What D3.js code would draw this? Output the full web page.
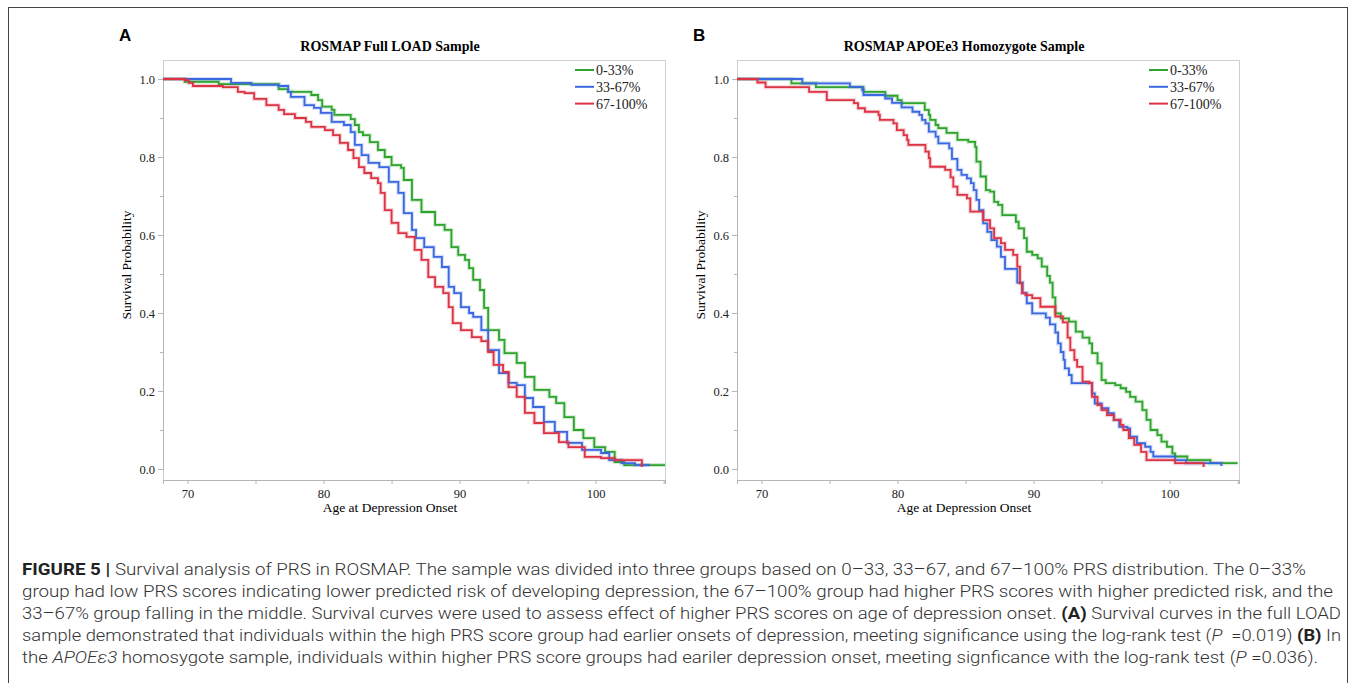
<!DOCTYPE html>
<html>
<head>
<meta charset="utf-8">
<script src="https://cdn.jsdelivr.net/npm/d3@7"></script>
<style>
  body { margin: 0; background: #fff; }
  svg { display: block; }
</style>
</head>
<body>
<script>
// Survival curves, [age, survival] at each step
const groups = ["0-33%", "33-67%", "67-100%"];
const panelLetters = ["A", "B"];
const panelTitles = ["ROSMAP Full LOAD Sample", "ROSMAP APOEe3 Homozygote Sample"];
const xTicks = [70, 80, 90, 100];
const xMinorTicks = [75, 85, 95, 105];
const yTicks = [0, 0.2, 0.4, 0.6, 0.8, 1.0];
const yMinorTicks = [0.1, 0.3, 0.5, 0.7, 0.9];

const fullLow = [
  [68.2, 1.0], [69.8, 0.993], [72.3, 0.987], [76.7, 0.974], [77.4, 0.967], [79.1, 0.959],
  [79.6, 0.946], [79.9, 0.929], [80.6, 0.921], [80.8, 0.908], [82.0, 0.897], [82.3, 0.882],
  [82.6, 0.864], [82.9, 0.856], [83.4, 0.838], [84.0, 0.818], [84.5, 0.800], [85.0, 0.779],
  [85.7, 0.772], [85.9, 0.741], [86.5, 0.690], [87.2, 0.659], [88.2, 0.626], [88.9, 0.613],
  [89.4, 0.569], [89.9, 0.549], [90.4, 0.536], [90.7, 0.515], [91.0, 0.485], [91.5, 0.459],
  [91.8, 0.413], [92.1, 0.356], [92.9, 0.331], [93.3, 0.297], [94.2, 0.272], [94.8, 0.236],
  [95.5, 0.203], [96.6, 0.185], [97.1, 0.169], [97.7, 0.133], [98.4, 0.100], [99.1, 0.079],
  [99.9, 0.056], [100.7, 0.044], [101.4, 0.018], [102.1, 0.010], [105.1, 0.010]
];
const fullMid = [
  [68.2, 1.0], [73.2, 0.990], [74.7, 0.985], [76.7, 0.982], [77.4, 0.967], [77.6, 0.954],
  [78.6, 0.933], [79.3, 0.926], [79.8, 0.913], [80.6, 0.890], [81.5, 0.882], [82.0, 0.864],
  [82.3, 0.831], [82.8, 0.805], [83.3, 0.785], [84.1, 0.774], [84.8, 0.736], [85.5, 0.708],
  [85.9, 0.656], [86.5, 0.613], [86.8, 0.592], [87.4, 0.569], [88.1, 0.544], [88.7, 0.518],
  [89.2, 0.467], [89.6, 0.451], [90.1, 0.415], [90.7, 0.400], [91.0, 0.390], [91.6, 0.356],
  [92.1, 0.305], [92.9, 0.246], [93.6, 0.221], [94.2, 0.215], [94.8, 0.182], [95.4, 0.159],
  [96.2, 0.121], [97.0, 0.095], [97.9, 0.067], [99.0, 0.049], [100.4, 0.041], [101.0, 0.023],
  [101.9, 0.015], [102.9, 0.010], [104.0, 0.010]
];
const fullHigh = [
  [68.2, 1.0], [69.8, 0.997], [70.1, 0.990], [70.4, 0.982], [72.6, 0.979], [73.7, 0.967],
  [74.2, 0.964], [74.9, 0.949], [75.8, 0.933], [76.7, 0.921], [77.1, 0.910], [77.9, 0.900],
  [78.7, 0.890], [79.1, 0.877], [80.1, 0.869], [80.7, 0.856], [81.2, 0.836], [81.8, 0.818],
  [82.2, 0.797], [82.6, 0.774], [83.0, 0.759], [83.5, 0.746], [84.0, 0.733], [84.2, 0.708],
  [84.5, 0.664], [85.0, 0.631], [85.5, 0.605], [86.1, 0.595], [86.7, 0.562], [87.2, 0.536],
  [87.7, 0.492], [88.2, 0.467], [88.8, 0.451], [89.2, 0.415], [89.5, 0.374], [90.1, 0.356],
  [90.9, 0.338], [91.6, 0.328], [92.1, 0.300], [92.5, 0.267], [93.2, 0.249], [93.6, 0.210],
  [94.2, 0.185], [94.8, 0.144], [95.5, 0.118], [96.2, 0.092], [97.3, 0.069], [98.0, 0.056],
  [99.2, 0.031], [100.4, 0.028], [101.4, 0.023], [103.4, 0.005]
];

const apoeLow = [
  [68.2, 1.0], [72.2, 0.989], [74.0, 0.979], [77.5, 0.967], [79.1, 0.957], [80.0, 0.946],
  [80.3, 0.938], [82.0, 0.921], [82.3, 0.908], [82.4, 0.895], [82.8, 0.882], [83.0, 0.874],
  [83.6, 0.862], [84.4, 0.844], [85.2, 0.839], [85.7, 0.826], [85.8, 0.788], [86.1, 0.750],
  [86.5, 0.715], [86.8, 0.711], [87.1, 0.685], [87.4, 0.677], [87.7, 0.651], [88.7, 0.634],
  [88.9, 0.617], [89.3, 0.592], [89.5, 0.557], [89.9, 0.549], [90.3, 0.540], [90.6, 0.519],
  [91.0, 0.495], [91.2, 0.478], [91.4, 0.440], [91.6, 0.399], [92.0, 0.386], [92.6, 0.378],
  [93.1, 0.352], [93.6, 0.337], [94.1, 0.322], [94.3, 0.297], [94.7, 0.271], [95.0, 0.228],
  [95.3, 0.220], [96.0, 0.215], [96.4, 0.207], [96.8, 0.198], [97.1, 0.185], [97.5, 0.173],
  [98.0, 0.151], [98.3, 0.126], [98.6, 0.100], [99.1, 0.087], [99.4, 0.070], [99.8, 0.057],
  [100.2, 0.040], [100.4, 0.032], [101.3, 0.023], [103.0, 0.015], [105.0, 0.015]
];
const apoeMid = [
  [68.2, 1.0], [73.0, 0.989], [76.5, 0.980], [77.4, 0.972], [77.5, 0.959], [79.1, 0.950],
  [79.6, 0.939], [80.3, 0.927], [81.1, 0.916], [81.6, 0.908], [81.8, 0.895], [82.05, 0.886],
  [82.3, 0.865], [82.8, 0.852], [83.0, 0.835], [83.8, 0.822], [84.0, 0.795], [84.4, 0.767],
  [84.7, 0.754], [85.1, 0.745], [85.4, 0.733], [85.6, 0.715], [85.8, 0.690], [86.0, 0.664],
  [86.3, 0.630], [86.6, 0.608], [86.9, 0.587], [87.3, 0.570], [87.6, 0.544], [87.9, 0.513],
  [88.8, 0.478], [89.2, 0.451], [89.5, 0.425], [89.9, 0.399], [90.9, 0.388], [91.2, 0.371],
  [91.6, 0.350], [91.8, 0.322], [92.0, 0.300], [92.2, 0.280], [92.3, 0.258], [92.6, 0.241],
  [92.8, 0.220], [94.3, 0.194], [94.5, 0.168], [95.0, 0.156], [95.5, 0.143], [95.9, 0.126],
  [96.3, 0.108], [96.9, 0.104], [97.1, 0.083], [97.6, 0.066], [98.2, 0.057], [98.6, 0.044],
  [98.8, 0.032], [100.4, 0.023], [101.2, 0.015], [103.8, 0.008]
];
const apoeHigh = [
  [68.2, 1.0], [69.7, 0.991], [70.3, 0.979], [73.5, 0.967], [74.8, 0.946], [76.8, 0.938],
  [77.1, 0.925], [77.6, 0.916], [78.6, 0.908], [78.7, 0.895], [79.7, 0.886], [79.95, 0.869],
  [80.45, 0.856], [80.7, 0.844], [80.8, 0.831], [82.05, 0.814], [82.3, 0.797], [82.4, 0.775],
  [83.5, 0.767], [83.9, 0.748], [84.1, 0.724], [84.4, 0.703], [85.1, 0.694], [85.35, 0.660],
  [86.3, 0.638], [86.8, 0.617], [87.1, 0.592], [87.6, 0.579], [87.9, 0.562], [88.5, 0.549],
  [88.8, 0.519], [89.0, 0.476], [89.15, 0.451], [89.4, 0.446], [89.9, 0.438], [90.5, 0.416],
  [91.6, 0.391], [92.15, 0.376], [92.5, 0.337], [92.7, 0.305], [93.0, 0.280], [93.2, 0.262],
  [93.6, 0.224], [94.1, 0.220], [94.3, 0.185], [94.7, 0.164], [95.0, 0.151], [95.4, 0.138],
  [95.9, 0.126], [96.4, 0.113], [96.6, 0.100], [97.0, 0.079], [97.4, 0.062], [97.9, 0.044],
  [98.3, 0.023], [100.4, 0.015], [102.5, 0.005]
];

const panelCurves = [[fullLow, fullMid, fullHigh], [apoeLow, apoeMid, apoeHigh]];

const captionLines = [
  [["FIGURE 5 | ", "b"], ["Survival analysis of PRS in ROSMAP. The sample was divided into three groups based on 0–33, 33–67, and 67–100% PRS distribution. The 0–33%", ""]],
  [["group had low PRS scores indicating lower predicted risk of developing depression, the 67–100% group had higher PRS scores with higher predicted risk, and the", ""]],
  [["33–67% group falling in the middle. Survival curves were used to assess effect of higher PRS scores on age of depression onset. ", ""], ["(A)", "b"], [" Survival curves in the full LOAD", ""]],
  [["sample demonstrated that individuals within the high PRS score group had earlier onsets of depression, meeting significance using the log-rank test (", ""], ["P", "i"], ["\u00a0 =0.019) ", ""], ["(B)", "b"], [" In", ""]],
  [["the ", ""], ["APOEε3", "i"], [" homosygote sample, individuals within higher PRS score groups had eariler depression onset, meeting signficance with the log-rank test (", ""], ["P", "i"], [" =0.036).", ""]]
];

const colors = ["#2ea32e", "#3a68e0", "#dc3444"];
const width = 1355, height = 683;
const serif = "'Liberation Serif', 'Times New Roman', serif";

const svg = d3.select("body").append("svg")
  .attr("width", width)
  .attr("height", height);

// outer figure box
svg.append("rect")
  .attr("x", 8.5).attr("y", 7.5)
  .attr("width", 1339).attr("height", 700)
  .attr("fill", "none")
  .attr("stroke", "#444")
  .attr("stroke-width", 1);

const plotW = 502, plotH = 420;
const panelLeft = [163, 737];
const plotTop = 60;

panelLetters.forEach((letter, p) => {
  const left = panelLeft[p];
  const g = svg.append("g").attr("transform", `translate(${left},${plotTop})`);

  const x = d3.scaleLinear().domain([68.2, 105.1]).range([0, plotW]);
  const y = d3.scaleLinear().domain([0, 1]).range([409, 19]);

  // panel letter and title
  svg.append("text")
    .attr("x", left - 44).attr("y", 41)
    .attr("font-family", "'Liberation Sans', Arial, sans-serif")
    .attr("font-weight", "bold")
    .attr("font-size", 17)
    .text(letter);
  svg.append("text")
    .attr("x", left + plotW / 2 - 24).attr("y", 51)
    .attr("text-anchor", "middle")
    .attr("font-family", serif)
    .attr("font-weight", "bold")
    .attr("font-size", 14)
    .text(panelTitles[p]);

  // frame
  g.append("rect")
    .attr("x", 0.5).attr("y", 0.5)
    .attr("width", plotW).attr("height", plotH)
    .attr("fill", "none")
    .attr("stroke", "#cfcfcf");

  // axes
  g.append("g")
    .call(d3.axisLeft(y).tickValues(yTicks).tickFormat(d3.format(".1f")).tickSize(5).tickPadding(3));
  g.append("g")
    .call(d3.axisLeft(y).tickValues(yMinorTicks).tickFormat("").tickSize(3));
  g.append("g")
    .attr("transform", `translate(0,${plotH})`)
    .call(d3.axisBottom(x).tickValues(xTicks).tickSize(4).tickPadding(5));
  g.append("g")
    .attr("transform", `translate(0,${plotH})`)
    .call(d3.axisBottom(x).tickValues(xMinorTicks).tickFormat("").tickSize(4));

  g.selectAll(".domain").attr("stroke", "#b5b5b5");
  g.selectAll(".tick line").attr("stroke", "#b5b5b5");
  g.selectAll(".tick text")
    .attr("font-family", serif)
    .attr("font-size", 12.5)
    .attr("fill", "#222");

  // axis titles
  svg.append("text")
    .attr("x", left + plotW / 2 - 24).attr("y", 512)
    .attr("text-anchor", "middle")
    .attr("font-family", serif)
    .attr("font-size", 13.5)
    .text("Age at Depression Onset");
  svg.append("text")
    .attr("transform", `translate(${left - 32},${plotTop + 205}) rotate(-90)`)
    .attr("text-anchor", "middle")
    .attr("font-family", serif)
    .attr("font-size", 13.5)
    .text("Survival Probability");

  // survival step curves
  const line = d3.line()
    .curve(d3.curveStepAfter)
    .x(d => x(d[0]))
    .y(d => y(d[1]));

  panelCurves[p].forEach((curve, i) => {
    g.append("path")
      .datum(curve)
      .attr("fill", "none")
      .attr("stroke", colors[i])
      .attr("stroke-opacity", 0.22)
      .attr("stroke-width", 4)
      .attr("d", line);
    g.append("path")
      .datum(curve)
      .attr("fill", "none")
      .attr("stroke", colors[i])
      .attr("stroke-width", 1.8)
      .attr("d", line);
  });

  // legend
  const leg = g.append("g").attr("transform", `translate(${plotW - 90},10)`);
  groups.forEach((name, i) => {
    const row = leg.append("g").attr("transform", `translate(0,${i * 16.8})`);
    row.append("line")
      .attr("x1", 0).attr("x2", 19)
      .attr("stroke", colors[i])
      .attr("stroke-width", 2);
    row.append("text")
      .attr("x", 21).attr("y", 5)
      .attr("font-family", serif)
      .attr("font-size", 14)
      .attr("fill", "#222")
      .text(name);
  });
});

// caption
const captionEnds = [1306, 1333, 1341, 1341, 1318];
captionLines.forEach((segs, i) => {
  const t = svg.append("text")
    .attr("x", 22)
    .attr("y", 575 + i * 22)
    .attr("font-family", "'Roboto', 'Liberation Sans', sans-serif")
    .attr("font-weight", 300)
    .attr("font-size", 16.5)
    .attr("fill", "#333")
    .attr("textLength", captionEnds[i] - 22)
    .attr("lengthAdjust", "spacingAndGlyphs");
  segs.forEach(([txt, style]) => {
    const s = t.append("tspan").text(txt);
    if (style === "b") s.attr("font-weight", "bold").attr("fill", "#222");
    if (style === "i") s.attr("font-style", "italic");
  });
});
</script>
</body>
</html>
